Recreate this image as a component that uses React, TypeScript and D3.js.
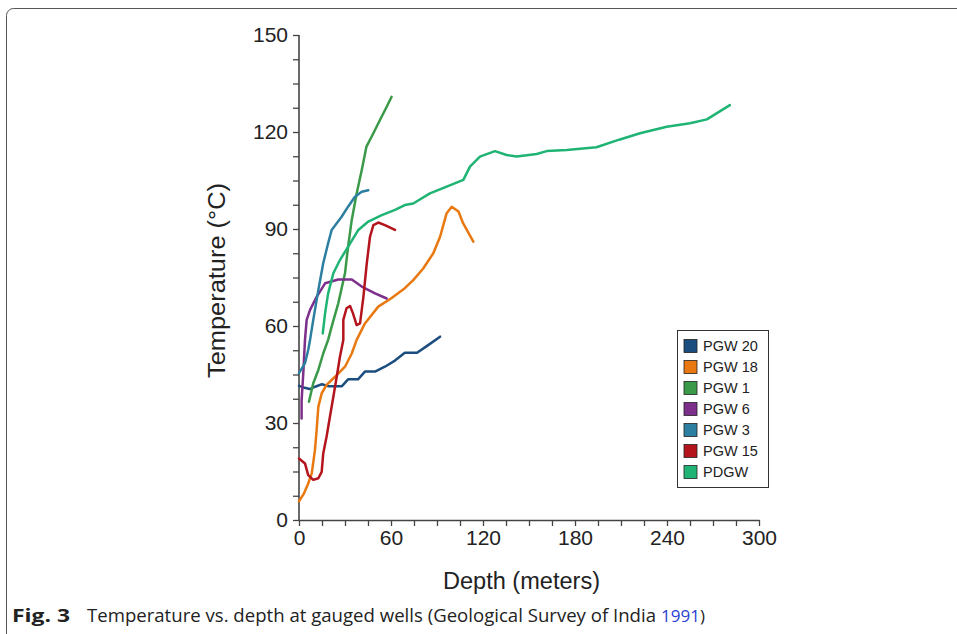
import React, { useEffect, useRef } from "react";
import * as d3 from "d3";

type Pt = [number, number];

const seriesNames = ["PGW 20", "PGW 18", "PGW 1", "PGW 6", "PGW 3", "PGW 15", "PDGW"];
const seriesColors = ["#1b4d7e", "#e8780f", "#3a9a49", "#7c2f8b", "#2c7fa1", "#b4151d", "#20b474"];

const pgw20: Pt[] = [[0,41.5],[3,41],[7,40.5],[11,41.3],[15,42],[19,41.4],[28,41.4],[32,43.5],[38.5,43.5],[43,45.9],[49.6,45.9],[56,47.4],[62.6,49.3],[69,51.7],[77,51.7],[84,54],[92,56.7]];
const pgw18: Pt[] = [[0,5.8],[3,8],[6,11.3],[8.3,14.4],[10.4,21.6],[11.5,27.8],[12.6,35],[14.8,39.2],[18,41.8],[23.5,44.3],[30,47.4],[34.4,51.5],[37.6,55.7],[43,60.8],[51.7,66],[60,68.5],[69,71.7],[74.5,74.2],[81,77.8],[87.6,82.5],[92,87.6],[96.3,94.9],[99.6,96.9],[104,95.4],[107,91.8],[113.7,86.1]];
const pgw1: Pt[] = [[6.5,36.6],[9.3,42.3],[12.6,46.4],[15.8,51.5],[19,55.7],[21.3,59.8],[25.6,67],[30,76.3],[32,84.5],[34.4,92.8],[37.6,101],[40.9,108.2],[44,115.5],[48.5,119.6],[52.8,123.7],[57.2,127.8],[60.4,130.9]];
const pgw6: Pt[] = [[1.7,31.4],[1.7,37],[2.8,45.4],[3.9,55.7],[5,61.9],[7.2,65],[11.5,69],[17,73.2],[25.6,74.4],[34.4,74.4],[40.9,72.2],[49.6,70.1],[57.2,68.5]];
const pgw3: Pt[] = [[0,45.4],[3.9,48.5],[6,52.6],[7.2,55.7],[9.3,61.9],[12.6,71.1],[15.8,79.4],[19,85.6],[21.3,89.7],[27.8,93.8],[32,96.9],[36.5,100],[40.9,101.5],[45.2,102]];
const pgw15: Pt[] = [[0,19],[3.9,17.5],[6,13.9],[9.3,12.4],[12.6,12.9],[14.8,14.9],[15.8,20.6],[18,25.8],[20.2,32],[22.4,38.1],[24.6,44.3],[26.7,50.5],[28.9,55.7],[28.9,61.9],[31,65.5],[33.3,66.2],[35.2,63.9],[37.6,60.3],[39.8,60.8],[42,69],[44.2,79.4],[46.3,87.6],[48.5,91.2],[51.7,92],[56,91.2],[62.6,89.7]];
const pdgw: Pt[] = [[15.5,57.7],[17,63.9],[19,70.1],[22.4,76.3],[26.7,80.4],[32,84.5],[38.7,89.7],[45.2,92.3],[54,94.3],[62.6,95.9],[69,97.4],[74.5,97.9],[85.4,101],[96.3,103.1],[107.2,105.2],[111.5,109.3],[118,112.4],[127.8,114.1],[135.4,112.9],[142,112.4],[155,113.2],[161.5,114.1],[174.6,114.4],[194,115.3],[209.3,117.7],[222.4,119.6],[239.8,121.6],[255,122.7],[266,123.9],[281,128.3]];

const seriesData: Pt[][] = [pgw20, pgw18, pgw1, pgw6, pgw3, pgw15, pdgw];

const xTicks = d3.range(0, 300.1, 15);
const yTicks = d3.range(0, 150.1, 7.5);
const xLabelStep = 60;
const yLabelStep = 30;

export default function App() {
  const ref = useRef<SVGSVGElement>(null);

  useEffect(() => {
    const svg = d3.select(ref.current);
    svg.selectAll("*").remove();

    const x = d3.scaleLinear().domain([0, 300]).range([299, 759]);
    const y = d3.scaleLinear().domain([0, 150]).range([520, 35]);

    // frame
    svg.append("rect")
      .attr("x", 6.5).attr("y", 8.5).attr("width", 1000).attr("height", 700)
      .attr("rx", 7).attr("fill", "none").attr("stroke", "#555").attr("stroke-width", 1);

    const font = "'Liberation Sans', Arial, sans-serif";

    // axes
    const yAxis = d3.axisLeft(y).tickValues(yTicks).tickSize(6).tickPadding(5)
      .tickFormat((d) => (Number(d) % yLabelStep === 0 ? String(d) : ""));
    const gy = svg.append("g").attr("transform", "translate(299,0)").call(yAxis);
    const xAxis = d3.axisBottom(x).tickValues(xTicks).tickSize(6).tickPadding(4)
      .tickFormat((d) => (Number(d) % xLabelStep === 0 ? String(d) : ""));
    const gx = svg.append("g").attr("transform", "translate(0,520)").call(xAxis);

    [gx, gy].forEach((g) => {
      g.select(".domain").attr("stroke", "#444").attr("stroke-width", 1.6);
      g.selectAll(".tick line").attr("stroke", "#444").attr("stroke-width", 1.3);
      g.selectAll(".tick text").attr("font-family", font).attr("font-size", 21).attr("fill", "#222");
    });
    gy.select(".domain").attr("d", "M0,35V520.5");
    gx.select(".domain").attr("d", "M299,0.5H759.5");

    // lines
    const line = d3.line<Pt>().x((d) => x(d[0])).y((d) => y(d[1]));
    seriesData.forEach((data, i) => {
      svg.append("path")
        .attr("d", line(data) as string)
        .attr("fill", "none")
        .attr("stroke", seriesColors[i])
        .attr("stroke-width", 2.5)
        .attr("stroke-linejoin", "round")
        .attr("stroke-linecap", "round");
    });

    // axis titles
    svg.append("text")
      .attr("x", 443).attr("y", 589)
      .attr("font-family", font).attr("font-size", 23).attr("fill", "#222")
      .attr("textLength", 157).attr("lengthAdjust", "spacingAndGlyphs")
      .text("Depth (meters)");
    svg.append("text")
      .attr("transform", "translate(225,378) rotate(-90)")
      .attr("font-family", font).attr("font-size", 23).attr("fill", "#222")
      .attr("textLength", 195).attr("lengthAdjust", "spacingAndGlyphs")
      .text("Temperature (°C)");

    // legend
    const lg = svg.append("g");
    lg.append("rect").attr("x", 677.5).attr("y", 330.5).attr("width", 91).attr("height", 157)
      .attr("fill", "#fff").attr("stroke", "#333").attr("stroke-width", 1);
    seriesNames.forEach((name, i) => {
      const cy = 346 + i * 21;
      lg.append("rect").attr("x", 684).attr("y", cy - 6.5).attr("width", 13).attr("height", 13)
        .attr("fill", seriesColors[i]).attr("stroke", "#222").attr("stroke-width", 0.8);
      lg.append("text").attr("x", 703).attr("y", cy + 5)
        .attr("font-family", font).attr("font-size", 14.5).attr("fill", "#222")
        .text(name);
    });

    // caption
    const capFont = "'Open Sans', 'Noto Sans', sans-serif";
    svg.append("text").attr("x", 12).attr("y", 622)
      .attr("font-family", capFont).attr("font-weight", "bold").attr("font-size", 18).attr("fill", "#222")
      .attr("textLength", 58).attr("lengthAdjust", "spacingAndGlyphs")
      .text("Fig. 3");
    svg.append("text").attr("x", 87).attr("y", 622)
      .attr("font-family", capFont).attr("font-size", 18).attr("fill", "#222")
      .attr("textLength", 569).attr("lengthAdjust", "spacingAndGlyphs")
      .text("Temperature vs. depth at gauged wells (Geological Survey of India");
    const tail = svg.append("text").attr("x", 661).attr("y", 622)
      .attr("font-family", capFont).attr("font-size", 17).attr("fill", "#222");
    tail.append("tspan").attr("fill", "#2b3fd1").text("1991");
    tail.append("tspan").text(")");
  }, []);

  return (
    <svg ref={ref} width={957} height={634}
      style={{ position: "absolute", left: 0, top: 0, background: "#fff" }} />
  );
}
